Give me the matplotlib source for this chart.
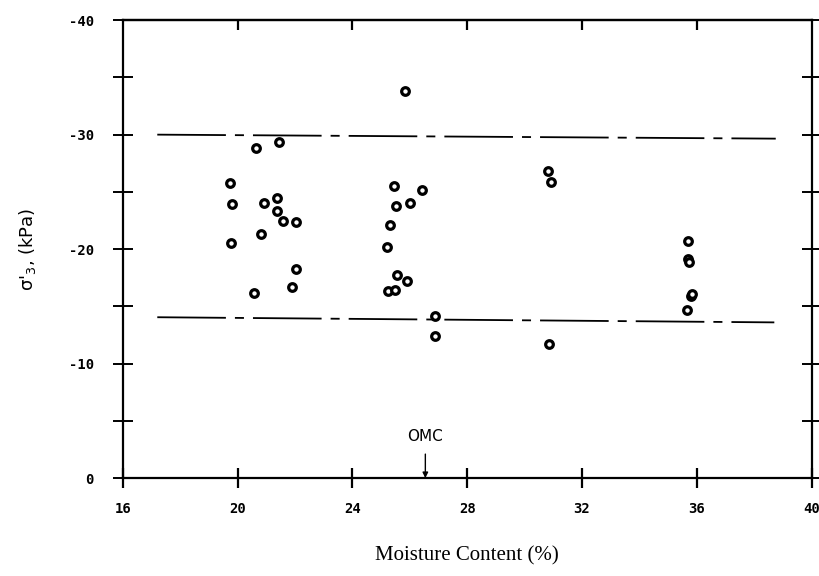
import numpy as np
import matplotlib.pyplot as plt
from matplotlib.ticker import MultipleLocator

# measured points (moisture content %, sigma'_3 kPa)
moisture = [25.84, 20.63, 21.43, 19.72, 19.80, 19.76, 20.92, 21.36, 21.38,
            21.58, 22.02, 20.81, 22.04, 21.89, 20.57, 25.44, 26.41, 25.51,
            26.01, 25.32, 25.21, 25.55, 25.91, 25.23, 25.50, 26.88, 26.86,
            30.85, 30.83, 30.93, 35.70, 35.70, 35.74, 35.78, 35.82, 35.64]
sigma3 = [-33.8, -28.85, -29.4, -25.8, -23.9, -20.5, -24.0, -24.5, -23.3,
          -22.5, -22.4, -21.3, -18.3, -16.7, -16.2, -25.5, -25.2, -23.8,
          -24.0, -22.1, -20.2, -17.7, -17.2, -16.3, -16.4, -14.15, -12.4,
          -11.7, -26.8, -25.9, -20.7, -19.1, -18.9, -15.9, -16.1, -14.7]

# envelope lines (start, end)
upper_x = [17.2, 38.75]
upper_y = [-30.0, -29.65]
lower_x = [17.2, 38.7]
lower_y = [-14.05, -13.6]

omc = 26.54

xticks = [16, 20, 24, 28, 32, 36, 40]
top_ticks = [20, 24, 28, 32, 36]
yticks = [0, -10, -20, -30, -40]

fig = plt.figure(figsize=(8.19, 5.76), dpi=100)
ax = fig.add_axes([0.150, 0.170, 0.841, 0.795])

ax.plot(upper_x, upper_y, color='black', lw=1.3, dashes=(38, 5, 5, 5))
ax.plot(lower_x, lower_y, color='black', lw=1.3, dashes=(38, 5, 5, 5))

ax.plot(moisture, sigma3, 'o', ms=5.5, mfc='white', mec='black', mew=2.3,
        linestyle='none')

ax.annotate('OMC', xy=(omc, 0), xytext=(omc, -3.6), ha='center', va='center',
            fontsize=11, family='DejaVu Sans',
            arrowprops=dict(arrowstyle='-|>', color='black', lw=1.0,
                            mutation_scale=8, shrinkA=5, shrinkB=0))

ax.set_xlim(16, 40)
ax.set_ylim(0, -40)
ax.set_xticks(xticks)
ax.set_yticks(yticks)
ax.set_xticklabels([str(t) for t in xticks])
ax.set_yticklabels([str(t) for t in yticks])
ax.yaxis.set_minor_locator(MultipleLocator(5))

for s in ax.spines.values():
    s.set_linewidth(1.6)

for lab in ax.get_xticklabels() + ax.get_yticklabels():
    lab.set_fontfamily('DejaVu Sans Mono')
    lab.set_fontweight('bold')
    lab.set_fontsize(10)

ax.tick_params(axis='x', which='major', direction='inout', length=14, width=1.6,
               pad=10, top=False)
ax.tick_params(axis='y', which='both', direction='inout', length=14, width=1.4,
               pad=14, right=True, labelright=False)

# top ticks point inward only
top = ax.secondary_xaxis('top')
top.set_xticks(top_ticks)
top.tick_params(direction='in', length=7, width=1.6, labeltop=False)
top.spines['top'].set_linewidth(1.6)

ax.set_xlabel('Moisture Content (%)', family='Liberation Serif', fontsize=15,
              labelpad=22)
ax.set_ylabel("σ'$_3$, (kPa)", family='DejaVu Sans', fontsize=13,
              labelpad=22)

fig.savefig('out.png', dpi=100)
